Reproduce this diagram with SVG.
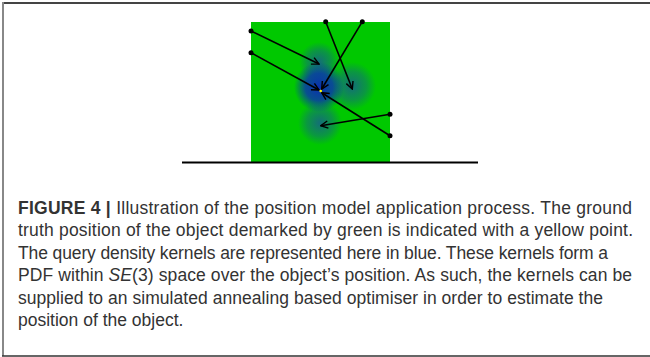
<svg xmlns="http://www.w3.org/2000/svg" width="650" height="357" viewBox="0 0 650 357">
<style>
.cap{font-family:"Liberation Sans",Arial,sans-serif;font-size:17.5px;fill:#333}
.b{font-weight:bold}
.conn line{stroke:#000;stroke-width:1.6;marker-end:url(#ah)}
.dot{fill:#000}
</style>
<defs>
<marker id="ah" viewBox="0 0 10 10" refX="9" refY="5" markerWidth="9" markerHeight="9" orient="auto" markerUnits="userSpaceOnUse">
<path d="M1,1 L9,5 L1,9" fill="none" stroke="#000" stroke-width="1.6"/>
</marker>
<radialGradient id="kMain">
<stop offset="0" stop-color="#0a2fb0" stop-opacity="1"/>
<stop offset="0.55" stop-color="#0a3aa8" stop-opacity="0.85"/>
<stop offset="1" stop-color="#0a3aa8" stop-opacity="0"/>
</radialGradient>
<radialGradient id="kSide">
<stop offset="0" stop-color="#1a50a0" stop-opacity="0.75"/>
<stop offset="0.6" stop-color="#1a50a0" stop-opacity="0.4"/>
<stop offset="1" stop-color="#1a50a0" stop-opacity="0"/>
</radialGradient>
</defs>
<rect x="0" y="0" width="650" height="357" fill="#fff"/>
<line x1="2" y1="3" x2="650" y2="3" stroke="#444" stroke-width="2"/>
<line x1="3" y1="2" x2="3" y2="356" stroke="#888" stroke-width="2"/>
<line x1="2" y1="356" x2="650" y2="356" stroke="#333" stroke-width="1.5"/>
<g id="object">
<rect x="251" y="22" width="139" height="140" fill="#00c800"/>
</g>
<g id="kernels">
<circle cx="352" cy="86" r="24" fill="url(#kSide)"/>
<circle cx="320" cy="123" r="22" fill="url(#kSide)"/>
<circle cx="319" cy="62" r="20" fill="url(#kSide)"/>
<circle cx="319" cy="87" r="25" fill="url(#kMain)"/>
</g>
<line x1="182" y1="162.5" x2="478" y2="162.5" stroke="#000" stroke-width="2"/>
<g id="connectors" class="conn">
<line x1="251" y1="31" x2="319" y2="64"/>
<line x1="251" y1="52.7" x2="319" y2="90"/>
<line x1="325.7" y1="21.7" x2="352.3" y2="89"/>
<line x1="362.3" y1="21.7" x2="321.7" y2="89"/>
<line x1="390" y1="114.3" x2="320.7" y2="125.7"/>
<line x1="390" y1="135.7" x2="321.7" y2="92.7"/>
</g>
<g id="dots">
<circle class="dot" cx="251" cy="31" r="2.5"/>
<circle class="dot" cx="251" cy="52.7" r="2.5"/>
<circle class="dot" cx="325.7" cy="21.7" r="2.5"/>
<circle class="dot" cx="362.3" cy="21.7" r="2.5"/>
<circle class="dot" cx="390" cy="114.3" r="2.5"/>
<circle class="dot" cx="390" cy="135.7" r="2.5"/>
</g>
<g id="truth">
<circle cx="320.7" cy="91" r="1.3" fill="#ffff00"/>
</g>
<g id="caption" class="cap">
<text x="18" y="214" textLength="614" lengthAdjust="spacing"><tspan class="b">FIGURE 4 |</tspan> Illustration of the position model application process. The ground</text>
<text x="18" y="236.4" textLength="615" lengthAdjust="spacing">truth position of the object demarked by green is indicated with a yellow point.</text>
<text x="18" y="258.8" textLength="590" lengthAdjust="spacing">The query density kernels are represented here in blue. These kernels form a</text>
<text x="18" y="281.2" textLength="614" lengthAdjust="spacing">PDF within <tspan font-style="italic">SE</tspan>(3) space over the object’s position. As such, the kernels can be</text>
<text x="18" y="303.6" textLength="585" lengthAdjust="spacing">supplied to an simulated annealing based optimiser in order to estimate the</text>
<text x="18" y="326">position of the object.</text>
</g>
</svg>
